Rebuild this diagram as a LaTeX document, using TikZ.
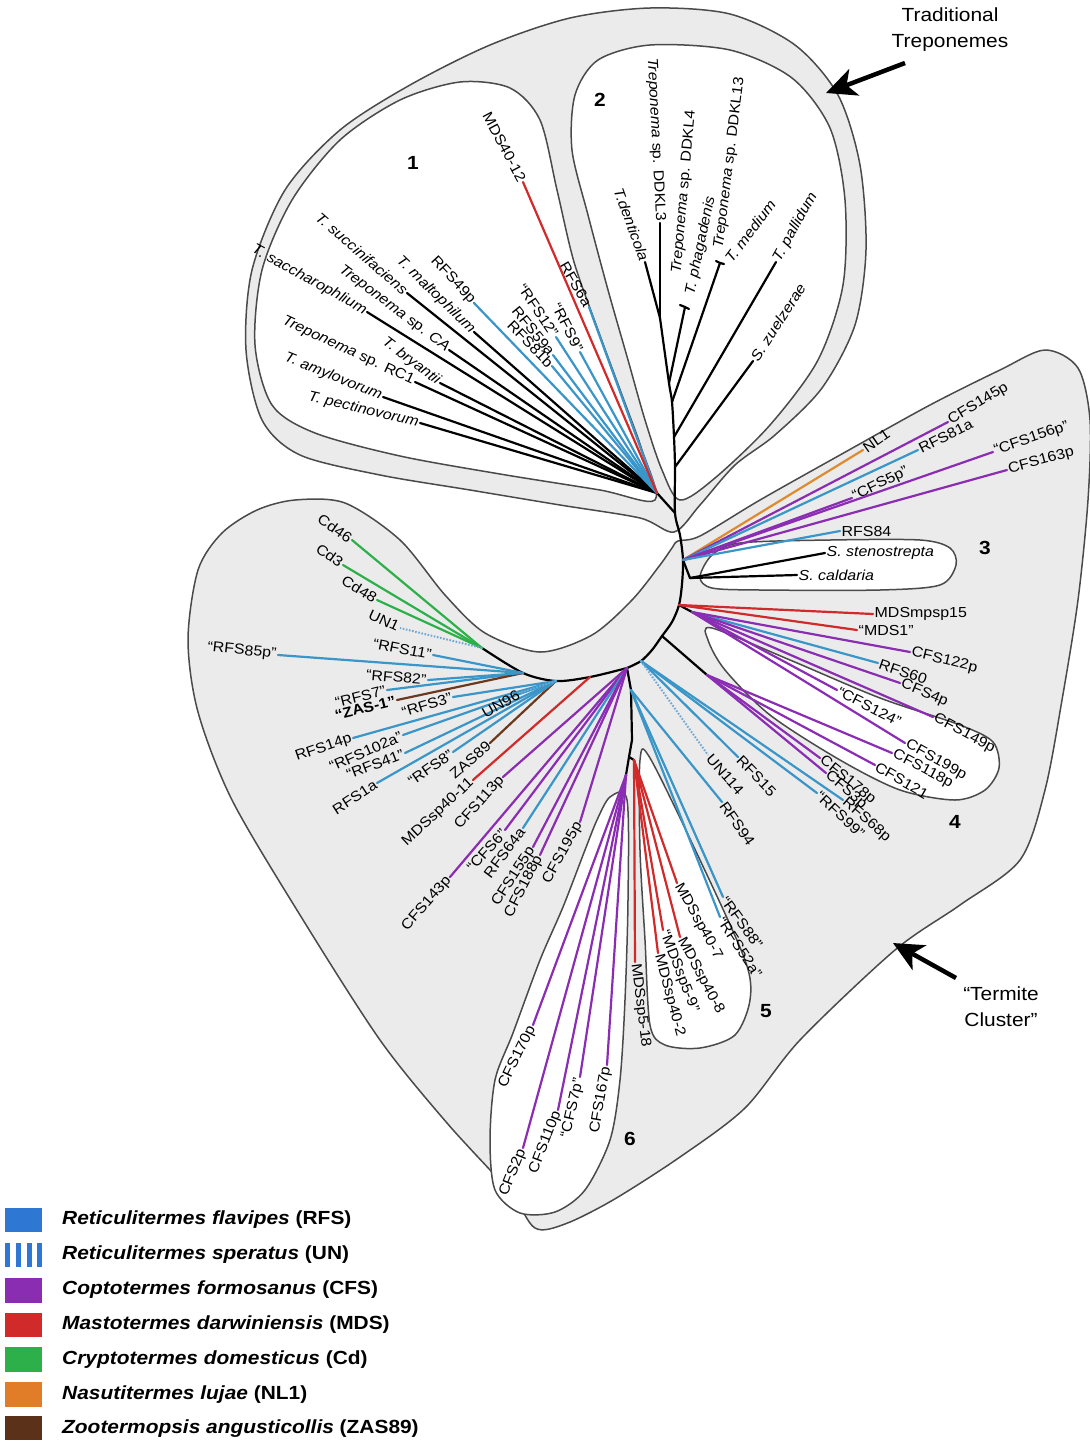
\documentclass[tikz,border=0pt]{standalone}
\usepackage{fontspec}
\setmainfont{Liberation Sans}[FakeStretch=1.1]
\usetikzlibrary{calc,arrows.meta}

\definecolor{cRFS}{HTML}{3A96C8}
\definecolor{cUN}{HTML}{6FA8D6}
\definecolor{cCFS}{HTML}{8A2DB3}
\definecolor{cMDS}{HTML}{D02A2A}
\definecolor{cCd}{HTML}{2DB04A}
\definecolor{cNL}{HTML}{DE8A2E}
\definecolor{cZAS}{HTML}{6B3A1E}
\definecolor{regfill}{HTML}{EBEBEB}
\definecolor{regline}{HTML}{4A4A4A}

% a leaf: base, tip, line style, label, label rotation, label anchor
\newcommand\tleaf[6]{%
  \draw[#3] (#1) -- (#2);
  \node[lbl,anchor=#6,rotate=#5] (#2-l) at (#2) {#4};}

\tikzset{
  br/.style={line width=2.2pt, line cap=round, line join=round},
  bk/.style={br, black},
  rfs/.style={br, cRFS},
  cfs/.style={br, cCFS},
  mds/.style={br, cMDS},
  cd/.style={br, cCd},
  nl/.style={br, cNL},
  zas/.style={br, cZAS},
  un/.style={line width=2pt, cUN, dash pattern=on 1.6pt off 1.6pt},
  reg/.style={draw=regline, line width=1.5pt, fill=regfill},
  hole/.style={draw=regline, line width=1.5pt, fill=white},
  lbl/.style={font=\fontsize{14.5}{16}\selectfont, inner sep=1.5pt},
  num/.style={font=\fontsize{19}{22}\selectfont\bfseries},
  note/.style={font=\fontsize{19}{26}\selectfont, align=center},
  bigarrow/.style={line width=4.5pt, -{Stealth[length=30pt,width=28pt,inset=8pt]}},
  legtext/.style={anchor=west, font=\fontsize{19}{22}\selectfont\bfseries, inner sep=0pt},
}

\begin{document}
\begin{tikzpicture}[x=1pt,y=-1pt]
\useasboundingbox (0,0) rectangle (1090,1444);

% ---------------- shaded cluster outlines ----------------
\draw[reg] plot[smooth cycle, tension=0.5] coordinates {
  (678,541) (700,536) (760,500) (840,455) (930,405) (1000,370) (1045,350)
  (1078,368) (1090,420) (1088,500) (1078,600) (1062,700) (1045,790)
  (1020,860) (960,905) (895,950) (800,1040) (745,1108) (680,1157)
  (613,1200) (565,1224) (535,1228) (510,1192) (447,1123) (380,1040)
  (300,915) (232,800) (198,712) (188,640) (198,570) (222,533) (257,510)
  (295,500) (345,503) (400,540) (445,595) (485,633) (540,652) (592,635)
  (632,600) (660,565) (672,548)};
\draw[reg] plot[smooth cycle, tension=0.5] coordinates {
  (674,532) (640,518) (560,505) (470,490) (380,475) (300,455) (262,420)
  (246,350) (252,270) (285,190) (340,130) (410,85) (490,45) (570,18)
  (650,8) (730,14) (795,45) (838,95) (860,165) (866,250) (855,325)
  (822,388) (775,435) (735,465) (700,505)};
\draw[hole] plot[smooth cycle, tension=0.5] coordinates {
  (655,500) (600,490) (500,474) (400,456) (315,433) (272,405) (255,345)
  (262,270) (292,200) (340,140) (400,100) (460,82) (510,88) (540,120)
  (557,190) (574,262) (598,330) (622,395) (642,450)};
\draw[hole] plot[smooth cycle, tension=0.5] coordinates {
  (680,500) (662,470) (645,420) (628,360) (608,290) (588,215) (572,150)
  (575,95) (598,60) (650,45) (730,50) (792,78) (830,128) (845,200)
  (843,285) (818,360) (770,425) (715,478)};
\draw[hole] plot[smooth cycle, tension=0.5] coordinates {
  (700,577) (712,555) (740,543) (830,540) (920,540) (950,548) (956,565)
  (940,585) (880,590) (760,590) (712,588)};
\draw[hole] plot[smooth cycle, tension=0.5] coordinates {
  (712,628) (790,660) (880,698) (960,725) (993,742) (999,768) (985,790)
  (955,800) (900,790) (840,760) (770,715) (725,670) (708,640)};
\draw[hole] plot[smooth cycle, tension=0.5] coordinates {
  (640,760) (650,758) (700,860) (745,960) (750,1000) (735,1035)
  (700,1048) (665,1045) (650,1025) (645,940) (640,850)};
\draw[hole] plot[smooth cycle, tension=0.5] coordinates {
  (610,797) (627,800) (628,900) (625,1000) (620,1080) (610,1140)
  (585,1190) (555,1212) (520,1213) (495,1190) (490,1140) (495,1080)
  (513,1033) (540,960) (563,907) (585,850) (597,820)};

% ---------------- internal nodes ----------------
\coordinate (c2a) at (660,318);
\coordinate (c2b) at (669,383);
\coordinate (c2c) at (672,402);
\coordinate (c2d) at (674,437);
\coordinate (c2e) at (675,467);
\coordinate (c2p) at (685,307);
\coordinate (c2q) at (720,263);
\coordinate (B1) at (657,493);
\coordinate (J1) at (675,513);
\coordinate (J1a) at (680,535);
\coordinate (J3) at (683,560);
\coordinate (J3s) at (690,578);
\coordinate (J3c) at (682,584);
\coordinate (J4) at (679,605);
\coordinate (J4p) at (692,612);
\coordinate (J4a) at (672,622);
\coordinate (J4b) at (662,636);
\coordinate (K4) at (707,675);
\coordinate (J5a) at (652,650);
\coordinate (J5) at (641,661);
\coordinate (J6) at (627,668);
\coordinate (JL1) at (590,677);
\coordinate (JLb) at (556,681);
\coordinate (JLa) at (523,673);
\coordinate (G) at (482,648);
\coordinate (S1) at (631,690);
\coordinate (S2) at (632,740);
\coordinate (S3) at (629,757);
\coordinate (R5) at (634,760);
\coordinate (K6) at (626,775);

% ---------------- backbone ----------------
\draw[bk] plot[smooth, tension=0.5] coordinates {(c2a) (c2b) (c2c) (c2d) (c2e)
  (J1) (J1a) (J3) (J3c) (J4) (J4a) (J4b) (J5a) (J5) (J6)};
\draw[bk] plot[smooth, tension=0.5] coordinates {(J6) (JL1) (JLb) (JLa) (G)};
\draw[bk] (B1) -- (J1);
\draw[bk] (J6) -- (S1) -- (S2) -- (S3) -- (K6);
\draw[bk] (J3) -- (J3s);
\draw[bk] (J4) -- (J4p);
\draw[bk] (J4b) -- (K4);
\draw[bk] (S3) -- (R5);

% ---------------- cluster 1 ----------------
\coordinate (t-mds4012) at (523,182);
\coordinate (t-rfs6a) at (589,307);
\coordinate (t-rfs9) at (580,352);
\coordinate (t-rfs12) at (556,337);
\coordinate (t-rfs59a) at (553,355);
\coordinate (t-rfs81b) at (552,366);
\coordinate (t-rfs49p) at (474,303);
\coordinate (t-tmal) at (474,332);
\coordinate (t-tsuc) at (407,293);
\coordinate (t-tca) at (449,350);
\coordinate (t-tsac) at (367,312);
\coordinate (t-tbry) at (440,383);
\coordinate (t-trc1) at (415,382);
\coordinate (t-tamy) at (383,397);
\coordinate (t-tpec) at (420,423);
\tleaf{B1}{t-tmal}{bk}{\itshape T. maltophilum}{-44}{east}
\tleaf{B1}{t-tsuc}{bk}{\itshape T. succinifaciens}{-41}{east}
\tleaf{B1}{t-tca}{bk}{\textit{Treponema} sp. \textit{CA}}{-37}{east}
\tleaf{B1}{t-tsac}{bk}{\itshape T. saccharophlium}{-29}{east}
\tleaf{B1}{t-tbry}{bk}{\itshape T. bryantii}{-37}{east}
\tleaf{B1}{t-trc1}{bk}{\textit{Treponema} sp. RC1}{-25}{east}
\tleaf{B1}{t-tamy}{bk}{\itshape T. amylovorum}{-22}{east}
\tleaf{B1}{t-tpec}{bk}{\itshape T. pectinovorum}{-13}{east}
\tleaf{B1}{t-rfs49p}{rfs}{RFS49p}{-47}{east}
\tleaf{B1}{t-rfs81b}{rfs}{RFS81b}{-46}{east}
\tleaf{B1}{t-rfs59a}{rfs}{RFS59a}{-51}{east}
\tleaf{B1}{t-rfs12}{rfs}{“RFS12”}{-56}{east}
\tleaf{B1}{t-rfs9}{rfs}{“RFS9”}{-63}{east}
\tleaf{B1}{t-rfs6a}{rfs}{RFS6a}{-60}{east}
\tleaf{B1}{t-mds4012}{mds}{MDS40-12}{-62}{east}

% ---------------- cluster 2 ----------------
\coordinate (t-tden) at (645,262);
\coordinate (t-dk3) at (660,223);
\coordinate (t-dk4) at (680,305);
\coordinate (t-pha) at (689,309);
\coordinate (t-dk13) at (716,261);
\coordinate (t-tmed) at (724,264);
\coordinate (t-tpal) at (776,262);
\coordinate (t-szue) at (753,361);
\tleaf{c2a}{t-tden}{bk}{\itshape T.denticola}{-70}{east}
\tleaf{c2a}{t-dk3}{bk}{\textit{Treponema} sp. DDKL3}{-87}{east}
\draw[bk] (c2b) -- (c2p);
\draw[bk] (c2p) -- (t-dk4);
\draw[bk] (c2p) -- (t-pha);
\node[lbl,anchor=west,rotate=85] (t-dk4-l) at (677,275) {\textit{Treponema} sp. DDKL4};
\node[lbl,anchor=west,rotate=78] (t-pha-l) at (690,296) {\itshape T. phagadenis};
\draw[bk] (c2c) -- (c2q);
\draw[bk] (c2q) -- (t-dk13);
\draw[bk] (c2q) -- (t-tmed);
\node[lbl,anchor=west,rotate=83] (t-dk13-l) at (719,250) {\textit{Treponema} sp. DDKL13};
\node[lbl,anchor=west,rotate=53] (t-tmed-l) at (727,262) {\itshape T. medium};
\tleaf{c2d}{t-tpal}{bk}{\itshape T. pallidum}{61}{west}
\tleaf{c2e}{t-szue}{bk}{\itshape S. zuelzerae}{57}{west}

% ---------------- cluster 3 ----------------
\coordinate (t-nl1) at (863,450);
\coordinate (t-cfs145) at (948,422);
\coordinate (t-rfs81a) at (918,450);
\coordinate (t-cfs5p) at (852,498);
\coordinate (t-cfs156) at (993,452);
\coordinate (t-cfs163) at (1007,470);
\coordinate (t-rfs84) at (840,531);
\coordinate (t-ssten) at (825,553);
\coordinate (t-scal) at (797,575);
\tleaf{J3}{t-nl1}{nl}{NL1}{35}{west}
\tleaf{J3}{t-cfs145}{cfs}{CFS145p}{31}{west}
\tleaf{J3}{t-rfs81a}{rfs}{RFS81a}{27}{west}
\tleaf{J3}{t-cfs5p}{cfs}{“CFS5p”}{26}{west}
\tleaf{J3}{t-cfs156}{cfs}{“CFS156p”}{19}{west}
\tleaf{J3}{t-cfs163}{cfs}{CFS163p}{15}{west}
\tleaf{J3}{t-rfs84}{rfs}{RFS84}{0}{west}
\tleaf{J3s}{t-ssten}{bk}{\itshape S. stenostrepta}{0}{west}
\tleaf{J3s}{t-scal}{bk}{\itshape S. caldaria}{0}{west}

% ---------------- cluster 4 ----------------
\coordinate (t-mdsmp) at (873,614);
\coordinate (t-mds1) at (857,630);
\coordinate (t-cfs122) at (910,652);
\coordinate (t-rfs60) at (878,663);
\coordinate (t-cfs4p) at (900,683);
\coordinate (t-cfs124) at (837,690);
\coordinate (t-cfs149) at (933,717);
\coordinate (t-cfs199) at (905,743);
\coordinate (t-cfs118) at (892,753);
\coordinate (t-cfs121) at (875,765);
\coordinate (t-cfs178) at (820,758);
\coordinate (t-cfs3p) at (826,773);
\tleaf{J4}{t-mdsmp}{mds}{MDSmpsp15}{0}{west}
\tleaf{J4}{t-mds1}{mds}{“MDS1”}{0}{west}
\tleaf{J4p}{t-rfs60}{rfs}{RFS60}{-19}{west}
\tleaf{J4p}{t-cfs122}{cfs}{CFS122p}{-14}{west}
\tleaf{J4p}{t-cfs4p}{cfs}{CFS4p}{-23}{west}
\tleaf{J4p}{t-cfs124}{cfs}{“CFS124”}{-27}{west}
\tleaf{J4p}{t-cfs149}{cfs}{CFS149p}{-28}{west}
\tleaf{J4p}{t-cfs199}{cfs}{CFS199p}{-29}{west}
\tleaf{K4}{t-cfs118}{cfs}{CFS118p}{-28}{west}
\tleaf{K4}{t-cfs121}{cfs}{CFS121}{-30}{west}
\tleaf{K4}{t-cfs178}{cfs}{CFS178p}{-39}{west}
\tleaf{K4}{t-cfs3p}{cfs}{CFS3p}{-41}{west}

% ---------------- RFS branch near the stem ----------------
\coordinate (t-rfs99) at (817,793);
\coordinate (t-rfs68) at (843,800);
\coordinate (t-rfs15) at (738,757);
\coordinate (t-un114) at (708,755);
\coordinate (t-rfs94) at (722,802);
\coordinate (t-rfs88) at (723,897);
\coordinate (t-rfs52) at (720,917);
\tleaf{J5}{t-rfs99}{rfs}{“RFS99”}{-43}{west}
\tleaf{J5}{t-rfs68}{rfs}{RFS68p}{-41}{west}
\tleaf{J5}{t-rfs15}{rfs}{RFS15}{-46}{west}
\tleaf{J5}{t-un114}{un}{UN114}{-49}{west}
\tleaf{S1}{t-rfs94}{rfs}{RFS94}{-55}{west}
\tleaf{S1}{t-rfs88}{rfs}{“RFS88”}{-54}{west}
\tleaf{S1}{t-rfs52}{rfs}{“RFS52a”}{-57}{west}

% ---------------- lower left fan ----------------
\coordinate (t-cfs143) at (450,877);
\coordinate (t-cfs6) at (505,830);
\coordinate (t-rfs64) at (523,828);
\coordinate (t-cfs155) at (533,847);
\coordinate (t-cfs188) at (540,855);
\coordinate (t-cfs195) at (580,822);
\coordinate (t-cfs113) at (503,777);
\coordinate (t-mds4011) at (473,780);
\coordinate (t-zas89) at (490,743);
\tleaf{J6}{t-cfs143}{cfs}{CFS143p}{49}{east}
\tleaf{J6}{t-cfs6}{cfs}{“CFS6”}{48}{east}
\tleaf{J6}{t-rfs64}{rfs}{RFS64a}{53}{east}
\tleaf{J6}{t-cfs155}{cfs}{CFS155p}{57}{east}
\tleaf{J6}{t-cfs188}{cfs}{CFS188p}{63}{east}
\tleaf{J6}{t-cfs195}{cfs}{CFS195p}{61}{east}
\tleaf{J6}{t-cfs113}{cfs}{CFS113p}{48}{east}
\tleaf{JL1}{t-mds4011}{mds}{MDSsp40-11}{43}{east}
\tleaf{JLb}{t-zas89}{zas}{ZAS89}{41}{east}

% ---------------- left cluster ----------------
\coordinate (t-rfs8) at (453,752);
\coordinate (t-rfs1a) at (377,783);
\coordinate (t-rfs41) at (405,753);
\coordinate (t-rfs102) at (403,735);
\coordinate (t-rfs14) at (353,738);
\coordinate (t-rfs3) at (453,697);
\coordinate (t-un96) at (520,693);
\coordinate (t-zas1) at (397,700);
\coordinate (t-rfs7) at (387,690);
\coordinate (t-rfs82) at (428,680);
\coordinate (t-rfs11) at (433,655);
\coordinate (t-rfs85) at (278,655);
\coordinate (t-cd46) at (352,540);
\coordinate (t-cd3) at (343,565);
\coordinate (t-cd48) at (377,600);
\coordinate (t-un1) at (400,628);
\tleaf{JLb}{t-rfs8}{rfs}{“RFS8”}{35}{east}
\tleaf{JLb}{t-rfs1a}{rfs}{RFS1a}{33}{east}
\tleaf{JLb}{t-rfs41}{rfs}{“RFS41”}{21}{east}
\tleaf{JLb}{t-rfs102}{rfs}{“RFS102a”}{24}{east}
\tleaf{JLb}{t-rfs14}{rfs}{RFS14p}{19}{east}
\tleaf{JLb}{t-rfs3}{rfs}{“RFS3”}{17}{east}
\tleaf{JLb}{t-un96}{un}{UN96}{30}{east}
\tleaf{JLa}{t-rfs7}{rfs}{“RFS7”}{14}{east}
\tleaf{JLa}{t-zas1}{zas}{\bfseries “ZAS-1”}{14}{east}
\tleaf{JLa}{t-rfs82}{rfs}{“RFS82”}{-5}{east}
\tleaf{JLa}{t-rfs11}{rfs}{“RFS11”}{-11}{east}
\tleaf{JLa}{t-rfs85}{rfs}{“RFS85p”}{-6}{east}
\tleaf{G}{t-cd46}{cd}{Cd46}{-35}{east}
\tleaf{G}{t-cd3}{cd}{Cd3}{-36}{east}
\tleaf{G}{t-cd48}{cd}{Cd48}{-32}{east}
\tleaf{G}{t-un1}{un}{UN1}{-25}{east}

% ---------------- clusters 5 and 6 ----------------
\coordinate (t-m518) at (635,962);
\coordinate (t-m402) at (658,953);
\coordinate (t-m59) at (663,930);
\coordinate (t-m408) at (680,937);
\coordinate (t-m407) at (677,883);
\tleaf{R5}{t-m518}{mds}{MDSsp5-18}{-83}{west}
\tleaf{R5}{t-m402}{mds}{MDSsp40-2}{-75}{west}
\tleaf{R5}{t-m59}{mds}{“MDSsp5-9”}{-69}{west}
\tleaf{R5}{t-m408}{mds}{MDSsp40-8}{-62}{west}
\tleaf{R5}{t-m407}{mds}{MDSsp40-7}{-61}{west}
\coordinate (t-cfs170) at (533,1025);
\coordinate (t-cfs2) at (523,1148);
\coordinate (t-cfs110) at (558,1110);
\coordinate (t-cfs7p) at (580,1077);
\coordinate (t-cfs167) at (607,1065);
\tleaf{K6}{t-cfs170}{cfs}{CFS170p}{64}{east}
\tleaf{K6}{t-cfs2}{cfs}{CFS2p}{68}{east}
\tleaf{K6}{t-cfs110}{cfs}{CFS110p}{69}{east}
\tleaf{K6}{t-cfs7p}{cfs}{“CFS7p”}{77}{east}
\tleaf{K6}{t-cfs167}{cfs}{CFS167p}{80}{east}

% ---------------- cluster numbers ----------------
\node[num] (n1) at (413,163) {1};
\node[num] (n2) at (600,100) {2};
\node[num] (n3) at (985,548) {3};
\node[num] (n4) at (955,822) {4};
\node[num] (n5) at (766,1011) {5};
\node[num] (n6) at (630,1139) {6};

% ---------------- annotations ----------------
\node[note] (trad) at (950,30) {Traditional\\Treponemes};
\coordinate (tradA) at (905,63);
\coordinate (tradB) at (826,93);
\draw[bigarrow] (tradA) -- (tradB);
\node[note] (term) at (1001,1007) {“Termite\\Cluster”};
\coordinate (termA) at (956,978);
\coordinate (termB) at (893,943);
\draw[bigarrow] (termA) -- (termB);

% ---------------- legend ----------------
\fill[cRFS!80!blue] (5,1208) rectangle (42,1232);
\foreach \bx in {5,16,27,37}
  \fill[cRFS!80!blue] (\bx,1243) rectangle ++(5,24);
\fill[cCFS] (5,1278) rectangle (42,1303);
\fill[cMDS] (5,1313) rectangle (42,1337);
\fill[cCd] (5,1347) rectangle (42,1372);
\fill[cNL!90!red] (5,1382) rectangle (42,1407);
\fill[cZAS!85!black] (5,1416) rectangle (42,1440);
\node[legtext] (lg1) at (62,1220) {\itshape Reticulitermes flavipes\upshape{} (RFS)};
\node[legtext] (lg2) at (62,1255) {\itshape Reticulitermes speratus\upshape{} (UN)};
\node[legtext] (lg3) at (62,1290) {\itshape Coptotermes formosanus\upshape{} (CFS)};
\node[legtext] (lg4) at (62,1325) {\itshape Mastotermes darwiniensis\upshape{} (MDS)};
\node[legtext] (lg5) at (62,1360) {\itshape Cryptotermes domesticus\upshape{} (Cd)};
\node[legtext] (lg6) at (62,1395) {\itshape Nasutitermes lujae\upshape{} (NL1)};
\node[legtext] (lg7) at (62,1429) {\itshape Zootermopsis angusticollis\upshape{} (ZAS89)};
\end{tikzpicture}
\end{document}
